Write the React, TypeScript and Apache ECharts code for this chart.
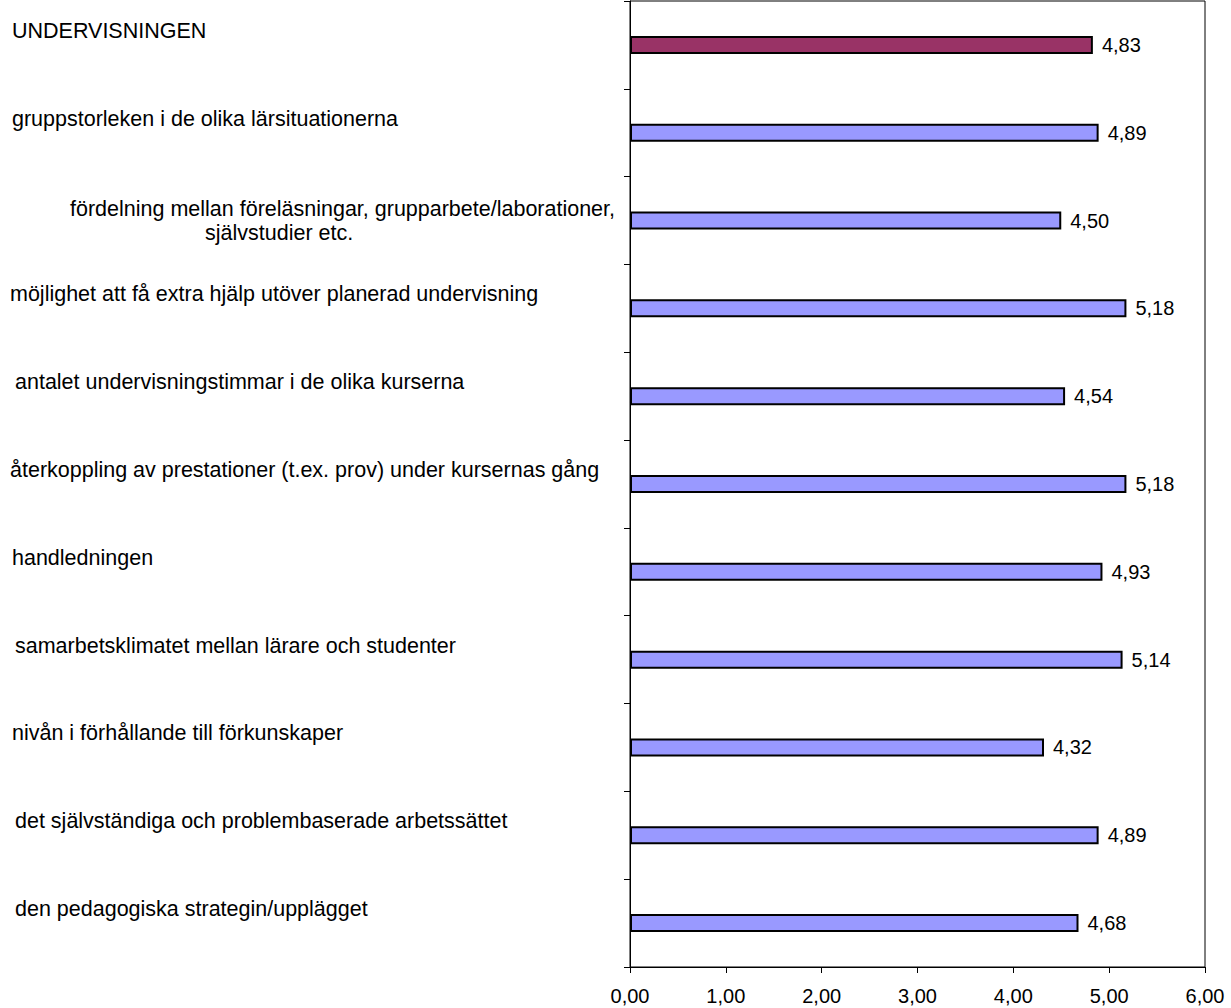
import React, { useEffect, useRef } from "react";
import * as echarts from "echarts";

const categories = [
  "UNDERVISNINGEN",
  "gruppstorleken i de olika lärsituationerna",
  "fördelning mellan föreläsningar, grupparbete/laborationer,\nsjälvstudier etc.",
  "möjlighet att få extra hjälp utöver planerad undervisning",
  "antalet undervisningstimmar i de olika kurserna",
  "återkoppling av prestationer (t.ex. prov) under kursernas gång",
  "handledningen",
  "samarbetsklimatet mellan lärare och studenter",
  "nivån i förhållande till förkunskaper",
  "det självständiga och problembaserade arbetssättet",
  "den pedagogiska strategin/upplägget",
];

const values = [4.83, 4.89, 4.5, 5.18, 4.54, 5.18, 4.93, 5.14, 4.32, 4.89, 4.68];

const xTicks = [0, 1, 2, 3, 4, 5, 6];

const labelOffsets = [2, 2, 60, 0, 5, 0, 2, 5, 2, 5, 5];
const secondLineOffset = 195;

const fmt = (v: number) => v.toFixed(2).replace(".", ",");

export default function App() {
  const ref = useRef<HTMLDivElement>(null);
  useEffect(() => {
    document.body.style.margin = "0";
    if (!ref.current) return;
    const chart = echarts.init(ref.current, null, { renderer: "svg" });
    const font = "'Liberation Sans', Arial, sans-serif";
    const fs = 21.5;
    const rich: Record<string, any> = {};
    labelOffsets.forEach((dx, i) => {
      rich["l" + i] = {
        fontSize: fs,
        fontFamily: font,
        color: "#000",
        padding: [0, 0, 28, dx],
      };
    });
    rich["la"] = { fontSize: fs, fontFamily: font, color: "#000", lineHeight: 24, padding: [0, 0, 0, labelOffsets[2]] };
    rich["lb"] = { fontSize: fs, fontFamily: font, color: "#000", lineHeight: 24, padding: [0, 0, 0, secondLineOffset] };

    chart.setOption({
      animation: false,
      backgroundColor: "#fff",
      grid: {
        left: 630,
        right: 26,
        top: 1,
        bottom: 41,
        show: true,
        borderColor: "#000",
        borderWidth: 1,
        containLabel: false,
      },
      xAxis: {
        type: "value",
        min: xTicks[0],
        max: xTicks[xTicks.length - 1],
        interval: 1,
        splitLine: { show: false },
        axisLine: { show: true, lineStyle: { color: "#000", width: 1 } },
        axisTick: { show: true, length: 6, lineStyle: { color: "#000" } },
        axisLabel: {
          formatter: (v: number) => fmt(v),
          fontSize: 20,
          fontFamily: font,
          color: "#000",
          margin: 19,
        },
      },
      yAxis: {
        type: "category",
        inverse: true,
        data: categories,
        axisLine: { show: true, lineStyle: { color: "#000", width: 1 } },
        axisTick: { show: true, length: 6, lineStyle: { color: "#000" } },
        axisLabel: {
          interval: 0,
          align: "left",
          margin: 620,
          formatter: (value: string, index: number) => {
            if (value.indexOf("\n") >= 0) {
              const parts = value.split("\n");
              return `{la|${parts[0]}}\n{lb|${parts[1]}}`;
            }
            return `{l${index}|${value}}`;
          },
          rich,
        },
      },
      series: [
        {
          type: "bar",
          barWidth: 18,
          data: values.map((v, i) => ({
            value: v,
            itemStyle: {
              color: i === 0 ? "#993366" : "#9999FF",
              borderColor: "#000",
              borderWidth: 2,
            },
          })),
          label: {
            show: true,
            position: "right",
            distance: 9,
            formatter: (p: any) => fmt(p.value),
            fontSize: 20,
            fontFamily: font,
            color: "#000",
          },
        },
      ],
    });
    return () => chart.dispose();
  }, []);
  return <div ref={ref} style={{ width: 1231, height: 1008 }} />;
}
